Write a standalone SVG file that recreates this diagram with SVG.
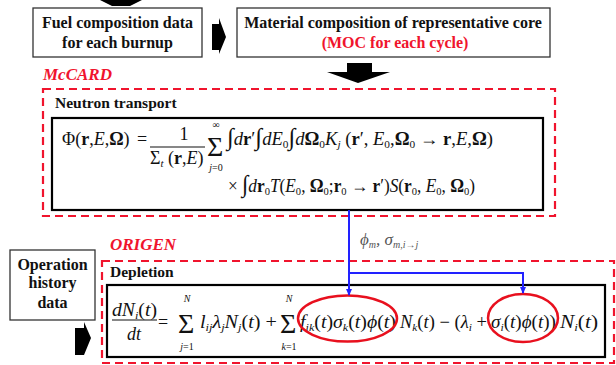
<svg xmlns="http://www.w3.org/2000/svg" width="616" height="365" viewBox="0 0 616 365">
<style>
.box{fill:#fff;stroke:#333;stroke-width:1.3}
.eqbox{fill:#fff;stroke:#000;stroke-width:2.2}
.dash{fill:none;stroke:#f0142d;stroke-width:2.2;stroke-dasharray:8 5}
.lbl{font-family:"Liberation Serif","Times New Roman",serif;font-weight:bold;font-size:16px;fill:#111}
.hd{font-size:15.5px}
.red{fill:#f0142d}
.tool{font-family:"Liberation Serif","Times New Roman",serif;font-weight:bold;font-style:italic;font-size:17px;fill:#f0142d}
.m{font-family:"Liberation Serif","Times New Roman",serif;font-size:18px;fill:#111}
.i{font-style:italic}
.b{font-weight:bold;font-style:normal}
.s{font-size:11px}
.big{font-family:"Liberation Serif","Times New Roman",serif;font-size:28px;fill:#111}
.lim{font-family:"Liberation Serif","Times New Roman",serif;font-size:10px;fill:#111}
.blk{fill:#000}
.blue{fill:none;stroke:#2222ff;stroke-width:2}
.ell{fill:none;stroke:#e8101e;stroke-width:2.5}
</style>
<defs>
<marker id="ah" markerWidth="8" markerHeight="8" refX="6" refY="4" orient="auto" markerUnits="userSpaceOnUse">
<path d="M0,1 L7,4 L0,7 Z" fill="#2222ff"/>
</marker>
</defs>

<g id="fuel">
<rect class="box" x="33" y="8" width="169" height="49"/>
<text class="lbl" x="117.5" y="28" text-anchor="middle">Fuel composition data</text>
<text class="lbl" x="117.5" y="48" text-anchor="middle">for each burnup</text>
</g>

<g id="material">
<rect class="box" x="237" y="8" width="313" height="49"/>
<text class="lbl" x="393" y="28" text-anchor="middle">Material composition of representative core</text>
<text class="lbl red" x="395" y="48" text-anchor="middle">(MOC for each cycle)</text>
</g>

<g id="mccard">
<text class="tool" x="43" y="80">McCARD</text>
<rect class="dash" x="43" y="89" width="512" height="127"/>
<text class="lbl hd" x="55" y="108">Neutron transport</text>
</g>

<g id="transport">
<rect class="eqbox" x="52" y="118" width="491" height="92"/>
<text class="m" x="62" y="145">Φ(<tspan class="b">r</tspan>,<tspan class="i">E</tspan>,<tspan class="b">Ω</tspan>)<tspan x="137">=</tspan></text>
<text class="m" x="184" y="140" text-anchor="middle">1</text>
<line x1="150" y1="147" x2="205" y2="147" stroke="#111" stroke-width="1.2"/>
<text class="m" x="150" y="164">Σ<tspan class="i s" dy="3">t</tspan><tspan dy="-3"> (</tspan><tspan class="b">r</tspan>,<tspan class="i">E</tspan>)</text>
<text class="big" x="207" y="156">Σ</text>
<text class="lim" x="216" y="128" text-anchor="middle">∞</text>
<text class="lim" x="216" y="171" text-anchor="middle"><tspan class="i">j</tspan>=0</text>
<text class="m" x="227" y="145" textLength="266" lengthAdjust="spacingAndGlyphs"><tspan font-size="24">∫</tspan><tspan class="i">d</tspan><tspan class="b">r</tspan>′<tspan font-size="24">∫</tspan><tspan class="i">dE</tspan><tspan class="s" dy="3">0</tspan><tspan dy="-3" font-size="24">∫</tspan><tspan class="i">d</tspan><tspan class="b">Ω</tspan><tspan class="s" dy="3">0</tspan><tspan class="i" dy="-3">K</tspan><tspan class="i s" dy="3">j</tspan><tspan dy="-3"> (</tspan><tspan class="b">r</tspan>′, <tspan class="i">E</tspan><tspan class="s" dy="3">0</tspan><tspan dy="-3">,</tspan><tspan class="b">Ω</tspan><tspan class="s" dy="3">0</tspan><tspan dy="-3"> → </tspan><tspan class="b">r</tspan>,<tspan class="i">E</tspan>,<tspan class="b">Ω</tspan>)</text>
<text class="m" x="228" y="192" textLength="247" lengthAdjust="spacingAndGlyphs">× <tspan font-size="24">∫</tspan><tspan class="i">d</tspan><tspan class="b">r</tspan><tspan class="s" dy="3">0</tspan><tspan class="i" dy="-3">T</tspan>(<tspan class="i">E</tspan><tspan class="s" dy="3">0</tspan><tspan dy="-3">, </tspan><tspan class="b">Ω</tspan><tspan class="s" dy="3">0</tspan><tspan dy="-3">;</tspan><tspan class="b">r</tspan><tspan class="s" dy="3">0</tspan><tspan dy="-3"> → </tspan><tspan class="b">r</tspan>′)<tspan class="i">S</tspan>(<tspan class="b">r</tspan><tspan class="s" dy="3">0</tspan><tspan dy="-3">, </tspan><tspan class="i">E</tspan><tspan class="s" dy="3">0</tspan><tspan dy="-3">, </tspan><tspan class="b">Ω</tspan><tspan class="s" dy="3">0</tspan><tspan dy="-3">)</tspan></text>
</g>

<g id="origen">
<text class="tool" x="110" y="250">ORIGEN</text>
<rect class="dash" x="102" y="261" width="512" height="102"/>
<text class="lbl hd" x="110" y="277">Depletion</text>
</g>

<g id="operation">
<rect class="box" x="10" y="250" width="85" height="70"/>
<text class="lbl" x="52.5" y="270" text-anchor="middle">Operation</text>
<text class="lbl" x="52.5" y="288" text-anchor="middle">history</text>
<text class="lbl" x="52.5" y="308" text-anchor="middle">data</text>
</g>

<g id="depletion">
<rect class="eqbox" x="107" y="285" width="498" height="72"/>
<text class="m" x="112" y="316" textLength="45" lengthAdjust="spacingAndGlyphs"><tspan class="i">dN</tspan><tspan class="i s" dy="3">i</tspan><tspan dy="-3">(</tspan><tspan class="i">t</tspan>)</text>
<line x1="112" y1="320" x2="157" y2="320" stroke="#111" stroke-width="1.2"/>
<text class="m i" x="134" y="340" text-anchor="middle">dt</text>
<text class="m" x="158" y="328">=</text>
<text class="big" x="178" y="333">Σ</text>
<text class="lim i" x="187" y="302" text-anchor="middle">N</text>
<text class="lim" x="187" y="350" text-anchor="middle"><tspan class="i">j</tspan>=1</text>
<text class="m" x="200" y="328" textLength="77" lengthAdjust="spacingAndGlyphs"><tspan class="i">l</tspan><tspan class="i s" dy="3">ij</tspan><tspan class="i" dy="-3">λ</tspan><tspan class="i s" dy="3">j</tspan><tspan class="i" dy="-3">N</tspan><tspan class="i s" dy="3">j</tspan><tspan dy="-3">(</tspan><tspan class="i">t</tspan>) +</text>
<text class="big" x="280" y="333">Σ</text>
<text class="lim i" x="289" y="302" text-anchor="middle">N</text>
<text class="lim" x="289" y="350" text-anchor="middle"><tspan class="i">k</tspan>=1</text>
<text class="m" x="300" y="328" textLength="96" lengthAdjust="spacingAndGlyphs"><tspan class="i">f</tspan><tspan class="i s" dy="3">ik</tspan><tspan dy="-3">(</tspan><tspan class="i">t</tspan>)<tspan class="i">σ</tspan><tspan class="i s" dy="3">k</tspan><tspan dy="-3">(</tspan><tspan class="i">t</tspan>)<tspan class="i">ϕ</tspan>(<tspan class="i">t</tspan>)</text>
<text class="m" x="400" y="328" textLength="87" lengthAdjust="spacingAndGlyphs"><tspan class="i">N</tspan><tspan class="i s" dy="3">k</tspan><tspan dy="-3">(</tspan><tspan class="i">t</tspan>) − (<tspan class="i">λ</tspan><tspan class="i s" dy="3">i</tspan><tspan dy="-3"> +</tspan></text>
<text class="m" x="491" y="328" textLength="65" lengthAdjust="spacingAndGlyphs"><tspan class="i">σ</tspan><tspan class="i s" dy="3">i</tspan><tspan dy="-3">(</tspan><tspan class="i">t</tspan>)<tspan class="i">ϕ</tspan>(<tspan class="i">t</tspan>))</text>
<text class="m" x="560" y="328" textLength="38" lengthAdjust="spacingAndGlyphs"><tspan class="i">N</tspan><tspan class="i s" dy="3">i</tspan><tspan dy="-3">(</tspan><tspan class="i">t</tspan>)</text>
<ellipse class="ell" cx="347.5" cy="318.5" rx="49.5" ry="23"/>
<ellipse class="ell" cx="523" cy="318" rx="35" ry="24"/>
</g>

<g id="connectors">
<polygon class="blk" points="100,0 142,0 130,6 112,6"/>
<polygon class="blk" points="212,24 219,24 219,18 226,37 219,54 219,50 212,50"/>
<polygon class="blk" points="347,63 372,63 372,72 390,72 358,83 327,72 347,72"/>
<polygon class="blk" points="75,328 84,328 84,322 91,338 84,355 75,355"/>
<path class="blue" d="M349,210 V295" marker-end="url(#ah)"/>
<path class="blue" d="M349,273 H523 V293" marker-end="url(#ah)"/>
<text x="360" y="245" font-family="Liberation Serif, serif" font-size="17" fill="#555" font-style="italic">ϕ<tspan font-size="10" dy="3">m</tspan><tspan dy="-3">,  σ</tspan><tspan font-size="10" dy="3">m,i→j</tspan></text>
</g>
</svg>
